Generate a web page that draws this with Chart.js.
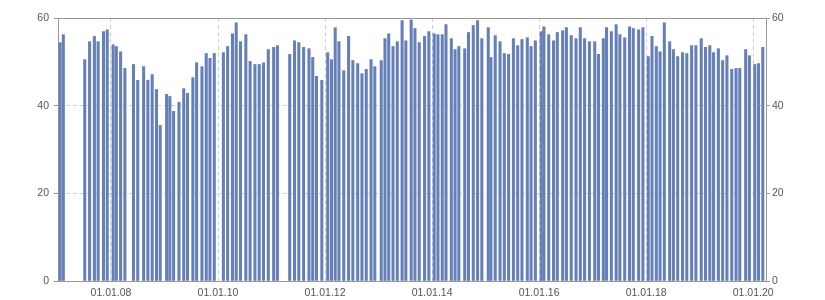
<!DOCTYPE html>
<html>
<head>
<meta charset="utf-8">
<script src="https://cdn.jsdelivr.net/npm/chart.js@4"></script>
<style>
  html, body { margin: 0; padding: 0; background: #fff; }
  #wrap { width: 825px; height: 300px; }
</style>
</head>
<body>
<div id="wrap"><canvas id="barChart"></canvas></div>
<script>
// observation dates as decimal years
const dates = [
  2007.05, 2007.11, 2007.51, 2007.60, 2007.69, 2007.76, 2007.86, 2007.93,
  2008.04, 2008.10, 2008.18, 2008.26, 2008.42, 2008.50, 2008.61, 2008.69, 2008.77, 2008.85, 2008.92,
  2009.04, 2009.10, 2009.17, 2009.27, 2009.36, 2009.43, 2009.53, 2009.60, 2009.70, 2009.78, 2009.85, 2009.93,
  2010.10, 2010.18, 2010.27, 2010.34, 2010.42, 2010.52, 2010.60, 2010.69, 2010.77, 2010.85, 2010.94,
  2011.04, 2011.11, 2011.34, 2011.43, 2011.51, 2011.60, 2011.70, 2011.77, 2011.84, 2011.94,
  2012.05, 2012.12, 2012.19, 2012.26, 2012.35, 2012.44, 2012.52, 2012.61, 2012.69, 2012.77, 2012.86, 2012.93,
  2013.05, 2013.12, 2013.19, 2013.27, 2013.35, 2013.44, 2013.51, 2013.61, 2013.68, 2013.76, 2013.86, 2013.94,
  2014.04, 2014.11, 2014.19, 2014.26, 2014.36, 2014.43, 2014.50, 2014.61, 2014.68, 2014.77, 2014.85, 2014.93,
  2015.05, 2015.10, 2015.18, 2015.27, 2015.35, 2015.43, 2015.52, 2015.60, 2015.68, 2015.78, 2015.85, 2015.93,
  2016.04, 2016.09, 2016.18, 2016.27, 2016.34, 2016.44, 2016.51, 2016.60, 2016.69, 2016.77, 2016.85, 2016.94,
  2017.04, 2017.11, 2017.20, 2017.26, 2017.35, 2017.44, 2017.51, 2017.60, 2017.69, 2017.76, 2017.86, 2017.94,
  2018.04, 2018.11, 2018.19, 2018.26, 2018.34, 2018.44, 2018.51, 2018.59, 2018.68, 2018.76, 2018.85, 2018.93,
  2019.03, 2019.11, 2019.19, 2019.26, 2019.35, 2019.43, 2019.51, 2019.60, 2019.68, 2019.75, 2019.86, 2019.93,
  2020.03, 2020.10, 2020.18
];

const values = [
  54.4, 56.2, 50.5, 54.6, 55.8, 54.6, 56.9, 57.3,
  53.9, 53.5, 52.3, 48.5, 49.4, 45.8, 48.9, 45.8, 47.1, 43.7, 35.5,
  42.6, 42.1, 38.7, 40.8, 43.9, 42.8, 46.4, 49.8, 48.9, 51.9, 50.8, 51.9,
  52.1, 53.5, 56.4, 58.9, 54.6, 56.2, 50.1, 49.4, 49.4, 49.8, 52.8,
  53.3, 53.7, 51.7, 54.8, 54.4, 53.3, 53.0, 51.0, 46.7, 45.8,
  52.1, 50.5, 57.8, 54.6, 48.0, 55.8, 50.3, 49.6, 47.3, 48.3, 50.5, 48.9,
  50.3, 55.3, 56.4, 53.5, 54.6, 59.4, 54.8, 59.6, 57.6, 54.4, 55.8, 56.9,
  56.4, 56.2, 56.2, 58.5, 55.3, 52.8, 53.5, 53.0, 56.7, 58.3, 59.4, 55.3,
  57.8, 51.0, 56.0, 54.6, 51.9, 51.7, 55.3, 53.7, 55.1, 55.5, 53.5, 54.8,
  56.9, 58.0, 56.2, 54.8, 56.7, 57.1, 57.8, 56.0, 55.3, 57.8, 55.3, 54.6,
  54.6, 51.7, 55.3, 57.8, 56.9, 58.5, 56.2, 55.5, 58.0, 57.6, 57.3, 57.8,
  51.2, 55.8, 53.5, 52.3, 58.9, 54.6, 52.8, 51.2, 52.1, 51.9, 53.7, 53.7,
  55.3, 53.3, 53.7, 52.1, 53.0, 50.3, 51.4, 48.3, 48.5, 48.5, 52.8, 51.4,
  49.4, 49.6, 53.3
];

// tick labels
const xTickYears = [2008, 2010, 2012, 2014, 2016, 2018, 2020];
const yTicks = [0, 20, 40, 60];

const axisColor = "#999";
const gridColor = "#cfcfcf";

Chart.defaults.font.family = "'Liberation Sans', Arial, sans-serif";
Chart.defaults.font.size = 10.5;
Chart.defaults.color = "#555";

// solid line at 0 and 60, dashed in between
const yGridColor = (c) => (c.tick && (c.tick.value === 0 || c.tick.value === 60) ? axisColor : gridColor);
const yGridDash = (c) => (c.tick && (c.tick.value === 0 || c.tick.value === 60) ? [] : [4, 3]);

new Chart(document.getElementById("barChart"), {
  type: "bar",
  data: {
    datasets: [
      {
        data: dates.map((d, i) => ({ x: d, y: values[i] })),
        backgroundColor: "#6580b9",
        borderWidth: 0,
        barThickness: 2.4,
        yAxisID: "y",
      },
    ],
  },
  options: {
    responsive: true,
    maintainAspectRatio: false,
    animation: false,
    layout: { padding: { top: 18, left: 0, right: 0, bottom: 0 } },
    plugins: {
      legend: { display: false },
      tooltip: { enabled: false },
    },
    scales: {
      x: {
        type: "linear",
        min: 2007.01,
        max: 2020.24,
        offset: false,
        afterBuildTicks: (scale) => {
          scale.ticks = xTickYears.map((v) => ({ value: v }));
        },
        afterFit: (scale) => {
          scale.height = 19;
        },
        ticks: {
          autoSkip: false,
          maxRotation: 0,
          padding: 6,
          callback: (v) => "01.01." + String(v).slice(2),
        },
        grid: { offset: false, color: gridColor, drawTicks: false },
        border: { color: axisColor, dash: [4, 3] },
      },
      y: {
        position: "left",
        min: 0,
        max: 60,
        afterBuildTicks: (scale) => {
          scale.ticks = yTicks.map((v) => ({ value: v }));
        },
        afterFit: (scale) => {
          scale.width = 58;
        },
        ticks: { padding: 5 },
        grid: { color: yGridColor, tickColor: axisColor, tickLength: 4 },
        border: { color: axisColor, dash: yGridDash },
      },
      y2: {
        position: "right",
        min: 0,
        max: 60,
        afterBuildTicks: (scale) => {
          scale.ticks = yTicks.map((v) => ({ value: v }));
        },
        afterFit: (scale) => {
          scale.width = 59;
        },
        ticks: { padding: 2 },
        grid: { drawOnChartArea: false, tickColor: axisColor, tickLength: 4 },
        border: { color: axisColor },
      },
    },
  },
});
</script>
</body>
</html>
